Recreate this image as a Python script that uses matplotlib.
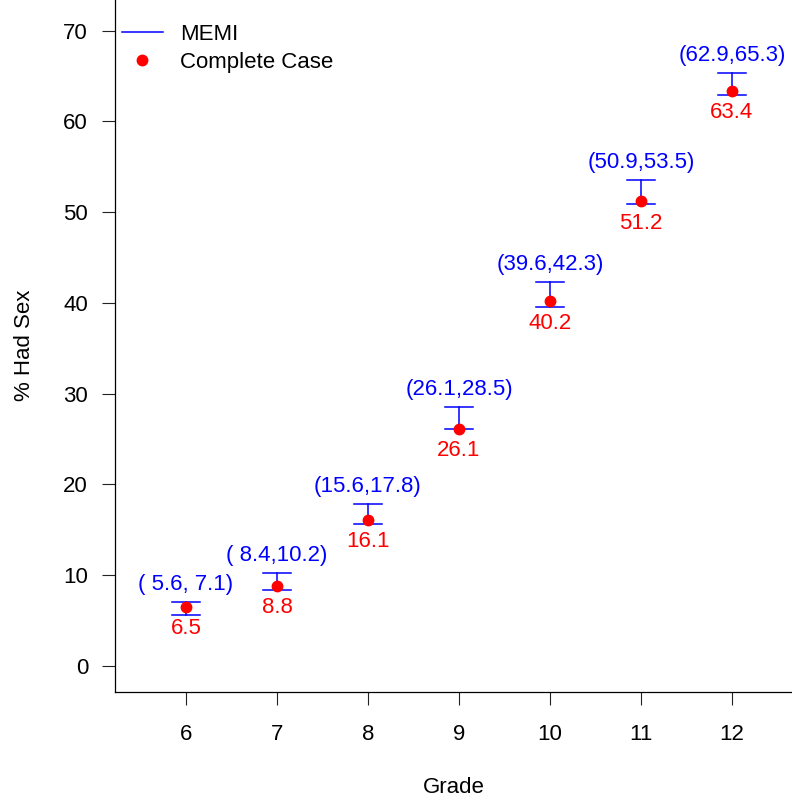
import numpy as np
import matplotlib
matplotlib.use("Agg")
import matplotlib.pyplot as plt
from matplotlib.lines import Line2D

plt.rcParams["font.family"] = ["Liberation Sans", "DejaVu Sans"]

# ── Data ────────────────────────────────────────────────────────────────
grades = [6, 7, 8, 9, 10, 11, 12]
cc_pct = [6.5, 8.8, 16.1, 26.1, 40.2, 51.2, 63.4]       # complete case
memi_lo = [5.6, 8.4, 15.6, 26.1, 39.6, 50.9, 62.9]      # MEMI interval
memi_hi = [7.1, 10.2, 17.8, 28.5, 42.3, 53.5, 65.3]

BLUE = "#0000FF"
RED = "#FF0000"
FS = 16

fig = plt.figure(figsize=(7.92, 8), dpi=100)
ax = fig.add_axes([115 / 792, 1 - 691.5 / 800, 1 - 115 / 792, 691.5 / 800])

cap = 0.155
for g, lo, hi, p in zip(grades, memi_lo, memi_hi, cc_pct):
    ax.plot([g, g], [lo, hi], color=BLUE, lw=1.1)
    ax.plot([g - cap, g + cap], [lo, lo], color=BLUE, lw=1.1)
    ax.plot([g - cap, g + cap], [hi, hi], color=BLUE, lw=1.1)
    ax.annotate(f"({lo:4.1f},{hi:4.1f})", (g, hi), xytext=(0, 8.6),
                textcoords="offset points", ha="center", va="baseline",
                color=BLUE, fontsize=FS)
    ax.annotate(f"{p:.1f}", (g, p), xytext=(0, -19.7),
                textcoords="offset points", ha="center", va="baseline",
                color=RED, fontsize=FS)

ax.plot(grades, cc_pct, "o", color=RED, markersize=7.5, zorder=5)

ax.set_xlim(5.22, 12.66)
ax.set_ylim(-2.81, 73.38)
ax.set_xticks(grades)
ax.set_yticks(np.arange(0, 71, 10))
ax.tick_params(labelsize=FS, length=9.4, width=0.8, color="#222222")
ax.tick_params(axis="x", pad=14)
ax.tick_params(axis="y", pad=10)
for s in ["top", "right"]:
    ax.spines[s].set_visible(False)
for s in ["left", "bottom"]:
    ax.spines[s].set_linewidth(0.9)

ax.set_xlabel("Grade", fontsize=FS, labelpad=23)
ax.set_ylabel("% Had Sex", fontsize=FS, labelpad=20)

handles = [Line2D([], [], color=BLUE, lw=1.1),
           Line2D([], [], color=RED, marker="o", ls="none", markersize=7.5)]
ax.legend(handles, ["MEMI", "Complete Case"], loc="upper left",
          bbox_to_anchor=(-0.003, 0.978), frameon=False, fontsize=FS,
          handlelength=1.85, handletextpad=0.75, labelspacing=0.3,
          borderaxespad=0.2, borderpad=0.2)

fig.savefig("out.png", dpi=100)
